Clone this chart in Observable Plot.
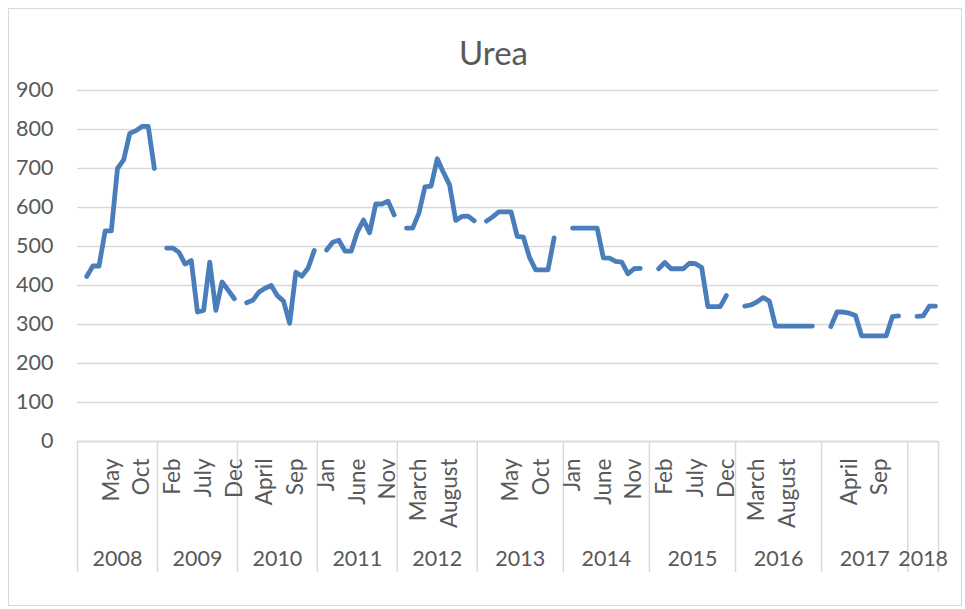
<!DOCTYPE html>
<html>
<head>
<meta charset="utf-8">
<script src="https://cdn.jsdelivr.net/npm/d3@7"></script>
<script src="https://cdn.jsdelivr.net/npm/@observablehq/plot@0.6"></script>
<style>
  html, body { margin: 0; padding: 0; background: #fff; }
  #wrap { position: relative; width: 965px; height: 609px; overflow: hidden; }
  #frame { position: absolute; left: 8px; top: 8px; width: 954px; height: 598px; border: 1px solid #d9d9d9; box-sizing: border-box; }
  #title { position: absolute; left: 11px; top: 32px; width: 965px; text-align: center; font-family: Lato, "Open Sans", sans-serif; font-size: 33px; line-height: 40px; color: #595959; }
  #chart { position: absolute; left: 0; top: 0; }
</style>
</head>
<body>
<div id="wrap">
  <div id="frame"></div>
  <div id="chart"></div>
  <div id="title">Urea</div>
</div>
<script>
// ---- data ----
const years = [2008, 2009, 2010, 2011, 2012, 2013, 2014, 2015, 2016, 2017, 2018];
// number of category slots each year occupies on the category axis (a leading blank row, the months, sometimes a trailing blank row)
const slotsPerYear = [13, 13, 13, 13, 13, 14, 14, 14, 14, 14, 5];
const monthNames = ["Jan", "Feb", "March", "April", "May", "June", "July", "August", "Sep", "Oct", "Nov", "Dec"];
const yTicks = [0, 100, 200, 300, 400, 500, 600, 700, 800, 900];

const urea2008 = [423, 450, 450, 540, 540, 700, 722, 790, 797, 808, 808, 700];
const urea2009 = [496, 496, 485, 455, 464, 332, 336, 460, 336, 409, 388, 366];
const urea2010 = [356, 362, 383, 393, 400, 374, 360, 303, 434, 424, 445, 490];
const urea2011 = [491, 511, 516, 488, 488, 537, 568, 535, 609, 609, 616, 581];
const urea2012 = [547, 547, 585, 653, 655, 725, 690, 658, 567, 577, 578, 566];
const urea2013 = [565, 576, 589, 589, 589, 526, 524, 472, 440, 440, 440, 522];
const urea2014 = [547, 547, 547, 547, 547, 471, 470, 462, 460, 430, 443, 444];
const urea2015 = [443, 459, 443, 443, 443, 457, 456, 446, 346, 346, 346, 374];
const urea2016 = [347, 350, 358, 369, 360, 296, 296, 296, 296, 296, 296, 296];
const urea2017 = [295, 332, 332, 329, 323, 271, 271, 271, 271, 271, 320, 322];
const urea2018 = [321, 322, 347, 347];
const ureaByYear = [urea2008, urea2009, urea2010, urea2011, urea2012, urea2013, urea2014, urea2015, urea2016, urea2017, urea2018];

const labelEvery = 5; // Excel shows every 5th category label

// ---- build category table ----
const rows = [];
const yearSpans = [];
let idx = 0;
years.forEach((yr, i) => {
  const start = idx;
  const vals = ureaByYear[i];
  for (let s = 0; s < slotsPerYear[i]; s++) {
    const has = s >= 1 && s <= vals.length;
    rows.push({
      i: idx,
      year: yr,
      month: has ? monthNames[s - 1] : "",
      value: has ? vals[s - 1] : NaN
    });
    idx++;
  }
  yearSpans.push({year: yr, start, end: idx});
});
const nCat = idx;
const boundaries = [...yearSpans.map(d => d.start), nCat];
const tickRows = rows.filter(d => d.i % labelEvery === 0 && d.month !== "");

const W = 965, H = 609;
const mTop = 90, mBottom = H - 441, mLeft = 77, mRight = W - 938;
const plotH = H - mTop - mBottom;

const chart = Plot.plot({
  width: W,
  height: H,
  marginTop: mTop,
  marginBottom: mBottom,
  marginLeft: mLeft,
  marginRight: mRight,
  style: {fontFamily: "Lato, 'Open Sans', sans-serif", fontSize: "21px", color: "#595959", background: "transparent"},
  x: {type: "linear", domain: [0, nCat], axis: null},
  y: {domain: [0, 900], axis: null},
  marks: [
    Plot.gridY(yTicks, {stroke: "#d9d9d9", strokeOpacity: 1, strokeWidth: 1.5}),
    Plot.axisY(yTicks, {tickSize: 0, tickPadding: 24, fontSize: 21.5, fill: "#595959", label: null}),
    Plot.ruleY([0], {stroke: "#d9d9d9", strokeWidth: 1.5}),
    Plot.ruleX(boundaries, {x: d => d, stroke: "#d9d9d9", strokeWidth: 1.5, insetTop: plotH, insetBottom: -131}),
    Plot.line(rows, {x: d => d.i + 0.5, y: "value", stroke: "#4a7ebb", strokeWidth: 4.8, strokeLinecap: "round", strokeLinejoin: "round", curve: "linear"}),
    Plot.text(tickRows, {x: d => d.i + 0.5, text: "month", frameAnchor: "bottom", dy: 17, rotate: -90, textAnchor: "end", lineAnchor: "middle", fontSize: 22.5, fill: "#595959"}),
    Plot.text(yearSpans, {x: d => (d.start + d.end) / 2, text: d => String(d.year), frameAnchor: "bottom", dy: 118, textAnchor: "middle", lineAnchor: "middle", fontSize: 21.5, fill: "#595959"})
  ]
});
document.getElementById("chart").appendChild(chart);
</script>
</body>
</html>
